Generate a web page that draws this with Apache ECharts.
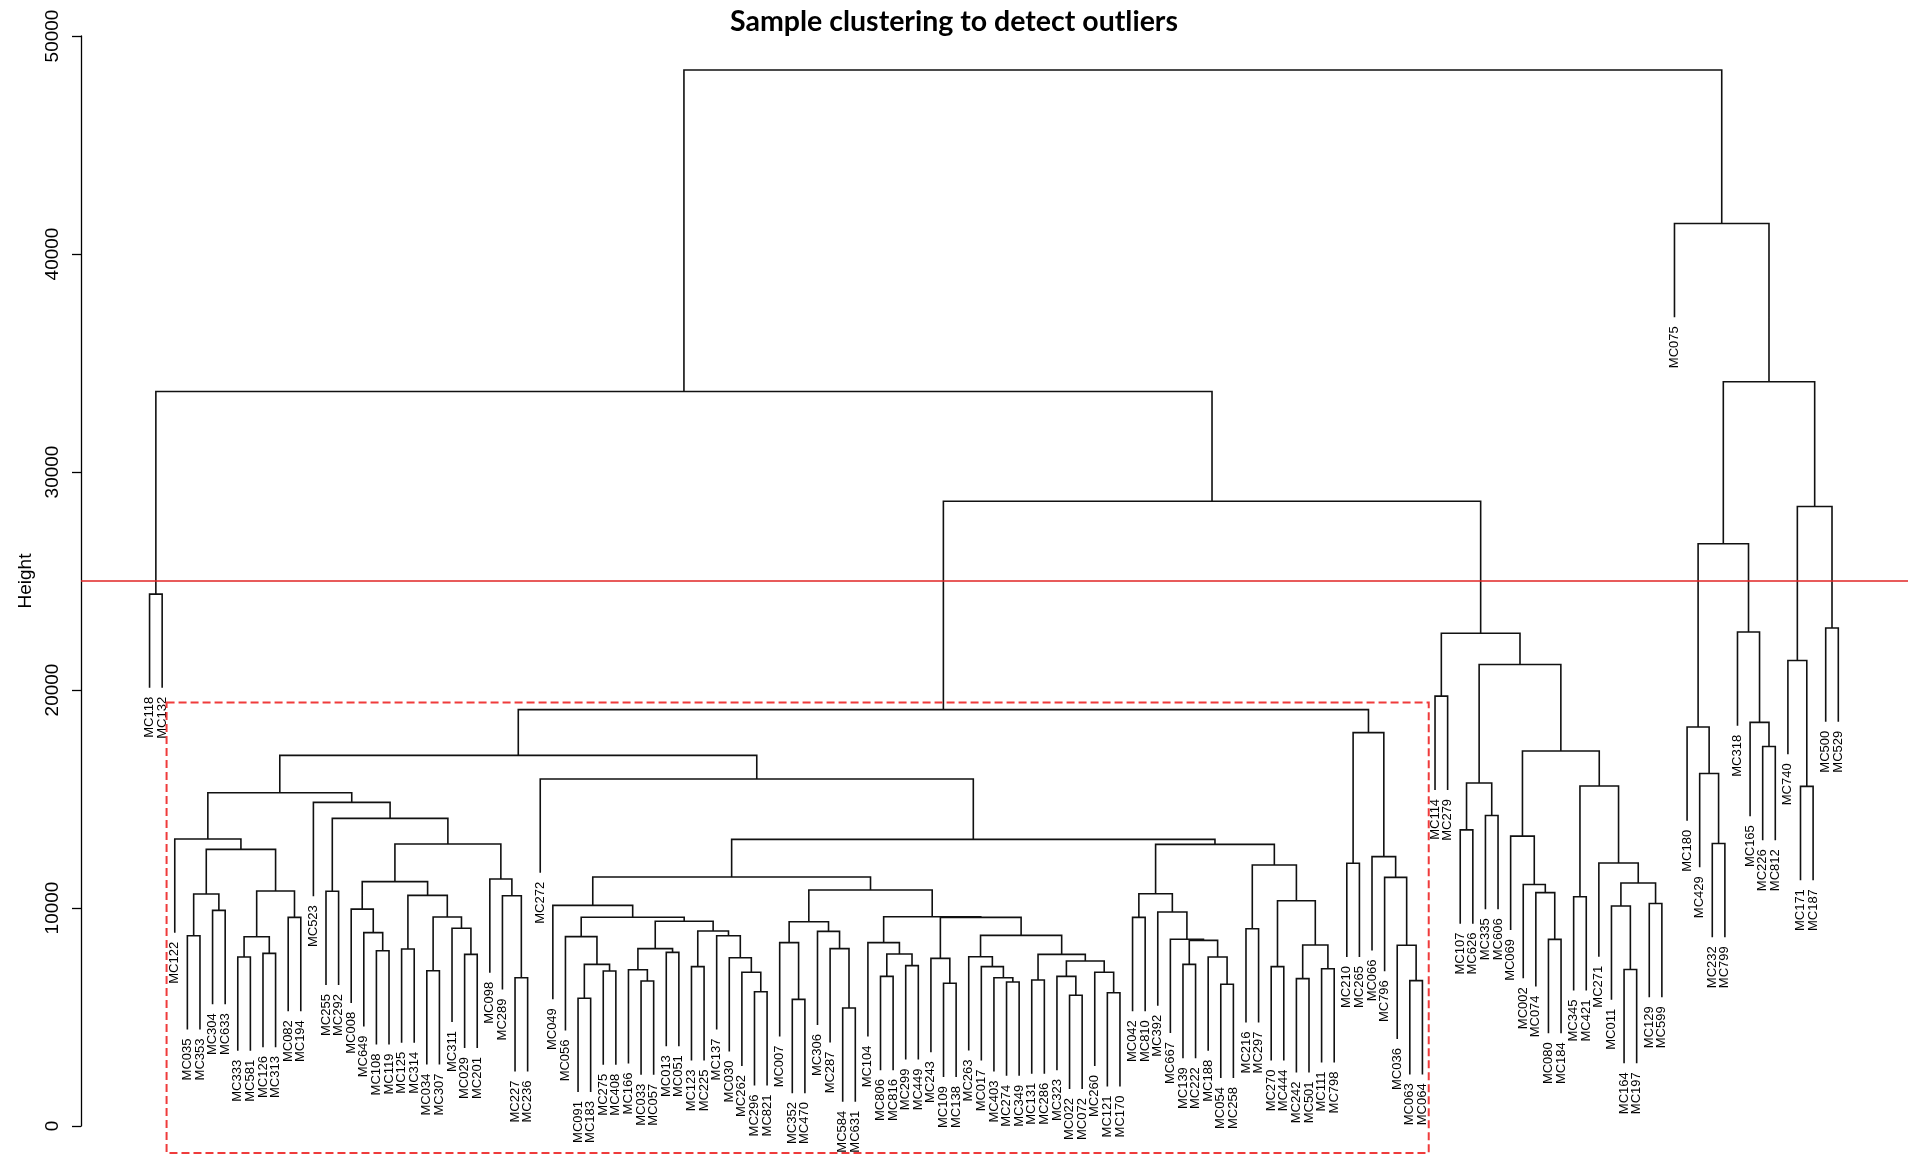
<!DOCTYPE html>
<html>
<head>
<meta charset="utf-8">
<title>Sample clustering to detect outliers</title>
<script src="https://cdn.jsdelivr.net/npm/echarts@6/dist/echarts.min.js"></script>
<style>
  html, body { margin: 0; padding: 0; background: #fff; }
  #chart { width: 1908px; height: 1156px; }
</style>
</head>
<body>
<div id="chart"></div>
<script>
// Sample names in dendrogram (leaf) order, left to right
const leafOrder = [
  'MC118','MC132','MC122','MC035','MC353','MC304','MC633','MC333','MC581','MC126',
  'MC313','MC082','MC194','MC523','MC255','MC292','MC008','MC649','MC108','MC119',
  'MC125','MC314','MC034','MC307','MC311','MC029','MC201','MC098','MC289','MC227',
  'MC236','MC272','MC049','MC056','MC091','MC183','MC275','MC408','MC166','MC033',
  'MC057','MC013','MC051','MC123','MC225','MC137','MC030','MC262','MC296','MC821',
  'MC007','MC352','MC470','MC306','MC287','MC584','MC631','MC104','MC806','MC816',
  'MC299','MC449','MC243','MC109','MC138','MC263','MC017','MC403','MC274','MC349',
  'MC131','MC286','MC323','MC022','MC072','MC260','MC121','MC170','MC042','MC810',
  'MC392','MC667','MC139','MC222','MC188','MC054','MC258','MC216','MC297','MC270',
  'MC444','MC242','MC501','MC111','MC798','MC210','MC265','MC066','MC796','MC036',
  'MC063','MC064','MC114','MC279','MC107','MC626','MC335','MC606','MC069','MC002',
  'MC074','MC080','MC184','MC345','MC421','MC271','MC011','MC164','MC197','MC129',
  'MC599','MC075','MC180','MC429','MC232','MC799','MC318','MC165','MC226','MC812',
  'MC740','MC171','MC187','MC500','MC529'
];

// Agglomeration steps: [left, right, height]
// a string is a sample, a number is an earlier step (0-based row)
const merges = [
  ['MC118', 'MC132', 24400],   // 0
  ['MC035', 'MC353', 8730],    // 1
  ['MC304', 'MC633', 9890],    // 2
  [1, 2, 10640],               // 3
  ['MC333', 'MC581', 7750],    // 4
  ['MC126', 'MC313', 7920],    // 5
  [4, 5, 8680],                // 6
  ['MC082', 'MC194', 9570],    // 7
  [6, 7, 10780],               // 8
  [3, 8, 12690],               // 9
  ['MC122', 9, 13165],         // 10
  ['MC255', 'MC292', 10765],   // 11
  ['MC108', 'MC119', 8040],    // 12
  ['MC649', 12, 8870],         // 13
  ['MC008', 13, 9950],         // 14
  ['MC125', 'MC314', 8120],    // 15
  ['MC034', 'MC307', 7120],    // 16
  ['MC029', 'MC201', 7875],    // 17
  ['MC311', 17, 9070],         // 18
  [16, 18, 9590],              // 19
  [15, 19, 10580],             // 20
  [14, 20, 11210],             // 21
  ['MC227', 'MC236', 6800],    // 22
  ['MC289', 22, 10565],        // 23
  ['MC098', 23, 11330],        // 24
  [21, 24, 12935],             // 25
  [11, 25, 14110],             // 26
  ['MC523', 26, 14845],        // 27
  [10, 27, 15290],             // 28
  ['MC091', 'MC183', 5860],    // 29
  ['MC275', 'MC408', 7110],    // 30
  [29, 30, 7415],              // 31
  ['MC056', 31, 8685],         // 32
  ['MC033', 'MC057', 6650],    // 33
  ['MC166', 33, 7170],         // 34
  ['MC013', 'MC051', 7965],    // 35
  [34, 35, 8135],              // 36
  ['MC123', 'MC225', 7310],    // 37
  ['MC296', 'MC821', 6160],    // 38
  ['MC262', 38, 7050],         // 39
  ['MC030', 39, 7720],         // 40
  ['MC137', 40, 8730],         // 41
  [37, 41, 8945],              // 42
  [36, 42, 9390],              // 43
  [32, 43, 9575],              // 44
  ['MC049', 44, 10120],        // 45
  ['MC352', 'MC470', 5810],    // 46
  ['MC007', 46, 8410],         // 47
  ['MC584', 'MC631', 5415],    // 48
  ['MC287', 48, 8135],         // 49
  ['MC306', 49, 8930],         // 50
  [47, 50, 9370],              // 51
  ['MC806', 'MC816', 6865],    // 52
  ['MC299', 'MC449', 7355],    // 53
  [52, 53, 7890],              // 54
  ['MC104', 54, 8410],         // 55
  ['MC109', 'MC138', 6545],    // 56
  ['MC243', 56, 7690],         // 57
  ['MC274', 'MC349', 6605],    // 58
  ['MC403', 58, 6800],         // 59
  ['MC017', 59, 7310],         // 60
  ['MC263', 60, 7765],         // 61
  ['MC131', 'MC286', 6695],    // 62
  ['MC022', 'MC072', 5995],    // 63
  ['MC323', 63, 6865],         // 64
  ['MC121', 'MC170', 6115],    // 65
  ['MC260', 65, 7050],         // 66
  [64, 66, 7570],              // 67
  [62, 67, 7875],              // 68
  [61, 68, 8745],              // 69
  [57, 69, 9570],              // 70
  [55, 70, 9600],              // 71
  [51, 71, 10825],             // 72
  [45, 72, 11420],             // 73
  ['MC042', 'MC810', 9570],    // 74
  ['MC054', 'MC258', 6500],    // 75
  ['MC188', 75, 7750],         // 76
  ['MC139', 'MC222', 7415],    // 77
  [77, 76, 8515],              // 78
  ['MC667', 78, 8565],         // 79
  ['MC392', 79, 9815],         // 80
  [74, 80, 10655],             // 81
  ['MC216', 'MC297', 9050],    // 82
  ['MC270', 'MC444', 7310],    // 83
  ['MC242', 'MC501', 6760],    // 84
  ['MC111', 'MC798', 7215],    // 85
  [84, 85, 8300],              // 86
  [83, 86, 10335],             // 87
  [82, 87, 11970],             // 88
  [81, 88, 12920],             // 89
  [73, 89, 13150],             // 90
  ['MC272', 90, 15915],        // 91
  [28, 91, 17000],             // 92
  ['MC210', 'MC265', 12050],   // 93
  ['MC063', 'MC064', 6670],    // 94
  ['MC036', 94, 8290],         // 95
  ['MC796', 95, 11405],        // 96
  ['MC066', 96, 12355],        // 97
  [93, 97, 18045],             // 98
  [92, 98, 19100],             // 99
  ['MC114', 'MC279', 19720],   // 100
  ['MC107', 'MC626', 13585],   // 101
  ['MC335', 'MC606', 14240],   // 102
  [101, 102, 15735],           // 103
  ['MC080', 'MC184', 8560],    // 104
  ['MC074', 104, 10705],       // 105
  ['MC002', 105, 11080],       // 106
  ['MC069', 106, 13295],       // 107
  ['MC345', 'MC421', 10515],   // 108
  ['MC164', 'MC197', 7180],    // 109
  ['MC011', 109, 10090],       // 110
  ['MC129', 'MC599', 10205],   // 111
  [110, 111, 11145],           // 112
  ['MC271', 112, 12065],       // 113
  [108, 113, 15595],           // 114
  [107, 114, 17200],           // 115
  [103, 115, 21170],           // 116
  [100, 116, 22600],           // 117
  [99, 117, 28660],            // 118
  [0, 118, 33690],             // 119
  ['MC232', 'MC799', 12960],   // 120
  ['MC429', 120, 16170],       // 121
  ['MC180', 121, 18300],       // 122
  ['MC226', 'MC812', 17410],   // 123
  ['MC165', 123, 18515],       // 124
  ['MC318', 124, 22660],       // 125
  [122, 125, 26710],           // 126
  ['MC171', 'MC187', 15580],   // 127
  ['MC740', 127, 21350],       // 128
  ['MC500', 'MC529', 22845],   // 129
  [128, 129, 28420],           // 130
  [126, 130, 34140],           // 131
  ['MC075', 131, 41400],       // 132
  [119, 132, 48440]            // 133
];

// Height axis ticks and the cut line
const yTicks = [0, 10000, 20000, 30000, 40000, 50000];
const cutHeight = 25000;

// Cluster highlighted by the dashed frame (step 99) and its first/last samples
const framedStep = 99;
const framedFirst = 'MC122';
const framedLast = 'MC064';

// ---- build segments from the merge table ----
const leafPos = {};
leafOrder.forEach((n, i) => { leafPos[n] = i; });
const heights = merges.map(m => m[2]);
// leaves hang below their parent by 10% of the height range (as plot.hclust does)
const hang = 0.1 * (Math.max.apply(null, heights) - Math.min.apply(null, heights));

const nodeX = [];
const segData = [];
const leafData = [];
merges.forEach((m, k) => {
  const h = m[2];
  const ends = [m[0], m[1]].map(c => {
    if (typeof c === 'string') {
      leafData.push([leafPos[c], h - hang]);
      return [leafPos[c], h - hang];
    }
    return [nodeX[c], merges[c][2]];
  });
  nodeX[k] = (ends[0][0] + ends[1][0]) / 2;
  segData.push([ends[0][0], ends[0][1], ends[1][0], ends[1][1], h]);
});

const frameData = [[
  leafPos[framedFirst] - 0.65,
  leafPos[framedLast] + 0.5,
  merges[framedStep][2] + 330,
  -1240
]];

const chart = echarts.init(document.getElementById('chart'), null, { renderer: 'canvas' });

chart.setOption({
  backgroundColor: '#ffffff',
  animation: false,
  title: {
    text: 'Sample clustering to detect outliers',
    left: 949,
    top: 2,
    textAlign: 'center',
    textStyle: { fontFamily: 'Lato', fontWeight: 'bold', fontSize: 28.5, color: '#000' }
  },
  grid: { left: 81, right: 0, top: 36, bottom: 30, containLabel: false },
  xAxis: {
    type: 'value', min: -5.44, max: 139.53, show: false
  },
  yAxis: {
    type: 'value',
    min: 0, max: 50000, interval: 10000,
    name: 'Height',
    nameLocation: 'middle',
    nameGap: 46,
    nameRotate: 90,
    nameTextStyle: { fontFamily: 'Liberation Sans', fontSize: 19, color: '#000' },
    axisLine: { show: true, onZero: false, lineStyle: { color: '#000', width: 1.3 } },
    axisTick: { show: true, length: 9, lineStyle: { color: '#000', width: 1.3 } },
    axisLabel: {
      rotate: 90, margin: 19,
      fontFamily: 'Liberation Sans', fontSize: 19, color: '#000',
      formatter: v => (yTicks.indexOf(v) >= 0 ? String(v) : '')
    },
    splitLine: { show: false }
  },
  series: [
    {
      type: 'custom',
      name: 'tree',
      coordinateSystem: 'cartesian2d',
      clip: false,
      silent: true,
      encode: { x: [0, 2], y: [1, 3, 4] },
      data: segData,
      renderItem: function (params, api) {
        const xl = api.value(0), yl = api.value(1), xr = api.value(2), yr = api.value(3), h = api.value(4);
        const pts = [api.coord([xl, yl]), api.coord([xl, h]), api.coord([xr, h]), api.coord([xr, yr])];
        return {
          type: 'polyline',
          shape: { points: pts },
          style: { stroke: '#111', lineWidth: 1.6, fill: null }
        };
      },
      markLine: {
        silent: true,
        symbol: 'none',
        label: { show: false },
        lineStyle: { color: '#e02424', width: 1.5, type: 'solid' },
        data: [{ yAxis: cutHeight }]
      }
    },
    {
      type: 'custom',
      name: 'labels',
      coordinateSystem: 'cartesian2d',
      clip: false,
      silent: true,
      encode: { x: 0, y: 1 },
      data: leafData,
      renderItem: function (params, api) {
        const p = api.coord([api.value(0), api.value(1)]);
        return {
          type: 'text',
          x: p[0],
          y: p[1] + 9,
          rotation: Math.PI / 2,
          style: {
            text: leafOrder[api.value(0)],
            font: '13px "Liberation Sans"',
            fill: '#000',
            align: 'right',
            verticalAlign: 'middle',
            textAlign: 'right',
            textVerticalAlign: 'middle'
          }
        };
      }
    },
    {
      type: 'custom',
      name: 'frame',
      coordinateSystem: 'cartesian2d',
      clip: false,
      silent: true,
      encode: { x: [0, 1], y: [2, 3] },
      data: frameData,
      renderItem: function (params, api) {
        const a = api.coord([api.value(0), api.value(2)]);
        const b = api.coord([api.value(1), api.value(3)]);
        return {
          type: 'rect',
          shape: { x: a[0], y: a[1], width: b[0] - a[0], height: b[1] - a[1] },
          style: { fill: null, stroke: '#ef3b3b', lineWidth: 2, lineDash: [8, 4] }
        };
      }
    }
  ]
});
</script>
</body>
</html>
